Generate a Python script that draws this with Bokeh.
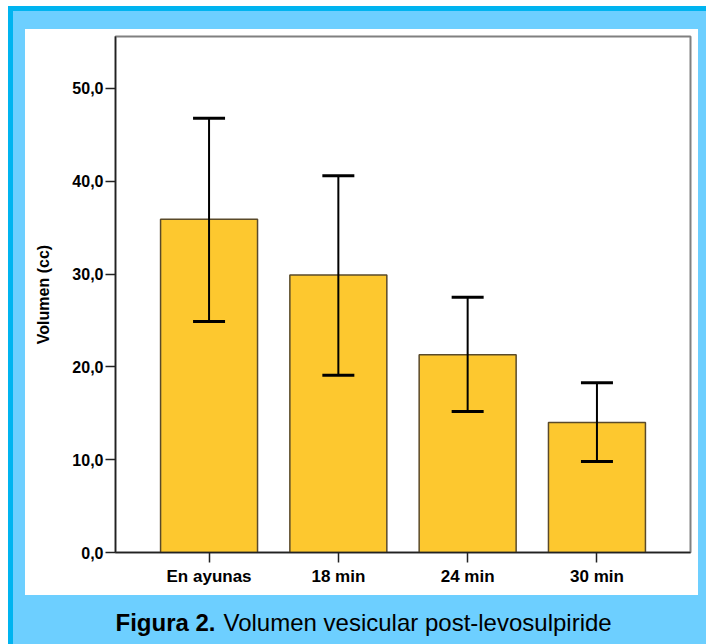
from bokeh.plotting import figure
from bokeh.layouts import column
from bokeh.models import (ColumnDataSource, FactorRange, Range1d, Whisker, TeeHead,
                          Label, FixedTicker)
from bokeh.embed import file_html
from bokeh.resources import INLINE

# ---- data ----
categories = ["En ayunas", "18 min", "24 min", "30 min"]
means = [35.9, 29.9, 21.3, 14.0]
lower = [24.9, 19.1, 15.2, 9.8]
upper = [46.8, 40.6, 27.5, 18.3]
y_ticks = [0, 10, 20, 30, 40, 50]
y_tick_labels = ["0,0", "10,0", "20,0", "30,0", "40,0", "50,0"]
y_label = "Volumen (cc)"
caption_bold = "Figura 2."
caption_rest = "Volumen vesicular post-levosulpiride"

FONT = "Liberation Sans"
LIGHT_BLUE = "#6DCFFF"
DARK_BLUE = "#00B4F0"

src = ColumnDataSource(dict(cat=categories, val=means, lo=lower, hi=upper))

W = 706
H_CHART = 595
H_CAP = 49

# ---------------- chart ----------------
p = figure(width=W, height=H_CHART, output_backend="svg", toolbar_location=None,
           x_range=FactorRange(factors=categories, range_padding=0.2235,
                               range_padding_units="absolute"),
           y_range=Range1d(0, 55.6),
           min_border_left=115, min_border_right=16,
           min_border_top=36, min_border_bottom=43)
p.frame_align = False
p.border_fill_alpha = 0
p.background_fill_color = "white"
p.outline_line_color = "#808080"
p.outline_line_width = 2
p.xgrid.visible = False
p.ygrid.visible = False

g = "linear-gradient({c}, {c})"
p.styles = {
    "background-color": "white",
    "background-image": ", ".join([
        g.format(c=DARK_BLUE), g.format(c=DARK_BLUE),
        g.format(c="#ffffff"), g.format(c=LIGHT_BLUE)]),
    "background-position": "8px 6px, 8px 6px, 25px 29px, 8px 6px",
    "background-size": f"5px {H_CHART - 6}px, {W - 8}px 5px, 673px {H_CHART - 29}px, {W - 8}px {H_CHART - 6}px",
    "background-repeat": "no-repeat",
}

p.vbar(x="cat", top="val", width=0.75, source=src,
       fill_color="#FDC82F", line_color="#5a4a2a", line_width=1.5)

w = Whisker(source=src, base="cat", upper="hi", lower="lo",
            line_color="black", line_width=2,
            upper_head=TeeHead(size=32, line_color="black", line_width=3),
            lower_head=TeeHead(size=32, line_color="black", line_width=3),
            level="annotation")
p.add_layout(w)

p.yaxis.ticker = FixedTicker(ticks=y_ticks)
p.yaxis.major_label_overrides = {t: l for t, l in zip(y_ticks, y_tick_labels)}
p.yaxis.axis_label = y_label
for ax in (p.xaxis, p.yaxis):
    ax.axis_line_color = "#222222"
    ax.axis_line_width = 1.5
    ax.major_tick_line_color = "#222222"
    ax.major_tick_line_width = 1.5
    ax.major_tick_in = 0
    ax.major_tick_out = 10
    ax.minor_tick_line_color = None
    ax.major_label_text_font = FONT
    ax.major_label_text_font_style = "bold"
    ax.major_label_text_color = "black"
p.yaxis.major_label_text_font_size = "16px"
p.xaxis.major_label_text_font_size = "17px"
p.yaxis.major_label_standoff = 2
p.xaxis.major_label_standoff = 4
p.yaxis.axis_label_text_font = FONT
p.yaxis.axis_label_text_font_style = "bold"
p.yaxis.axis_label_text_font_size = "16px"
p.yaxis.axis_label_text_color = "black"
p.yaxis.axis_label_standoff = 17

# ---------------- caption band ----------------
cap = figure(width=W, height=H_CAP, output_backend="svg", toolbar_location=None,
             x_range=Range1d(0, W), y_range=Range1d(H_CHART + H_CAP, H_CHART),
             x_axis_type=None, y_axis_type=None,
             min_border_left=0, min_border_right=0,
             min_border_top=0, min_border_bottom=0)
cap.frame_align = False
cap.border_fill_alpha = 0
cap.background_fill_alpha = 0
cap.outline_line_color = None
cap.styles = {
    "background-color": "white",
    "background-image": ", ".join([g.format(c=DARK_BLUE), g.format(c=LIGHT_BLUE)]),
    "background-position": "8px 0px, 8px 0px",
    "background-size": f"5px {H_CAP}px, {W - 8}px {H_CAP}px",
    "background-repeat": "no-repeat",
}
cap.add_layout(Label(x=215, y=622, text=caption_bold, text_font=FONT,
                     text_font_style="bold", text_font_size="24px",
                     text_align="right", text_baseline="alphabetic",
                     text_color="black"))
cap.add_layout(Label(x=223, y=622, text=caption_rest, text_font=FONT,
                     text_font_style="normal", text_font_size="24px",
                     text_align="left", text_baseline="alphabetic",
                     text_color="black"))

layout = column(p, cap, spacing=0)
open("out.html", "w").write(file_html(layout, INLINE))
